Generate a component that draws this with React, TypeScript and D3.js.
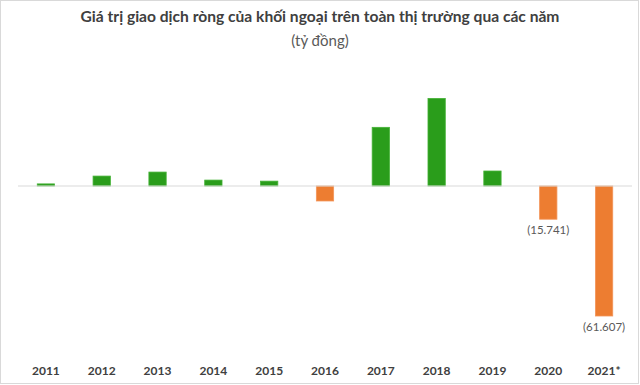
import React from 'react';
import * as d3 from 'd3';

const years = ['2011', '2012', '2013', '2014', '2015', '2016', '2017', '2018', '2019', '2020', '2021*'];
const netValues = [1000, 4700, 6600, 2800, 2300, -7100, 27800, 41500, 7100, -15741, -61607];
const shownLabels = ['', '', '', '', '', '', '', '', '', '(15.741)', '(61.607)'];

const width = 640;
const height = 385;

export default function App() {
    const xScale = d3.scaleBand<string>()
        .domain(years)
        .range([18, 632])
        .paddingInner(0.69)
        .paddingOuter(0.345);

    // zero line sits at y=186, 2021* bottom at ~316
    const yScale = d3.scaleLinear()
        .domain([-61607, 0])
        .range([316, 186]);

    const y0 = yScale(0);

    return (
        <svg width={width} height={height}
            style={{ position: 'absolute', top: 0, left: 0, display: 'block', background: '#fff' }}>
            <rect x={0.5} y={0.5} width={width - 2} height={height - 2} fill="#fff" stroke="#d9d9d9" />

            <text x={320} y={22} textAnchor="middle" fontFamily="Lato, 'Noto Sans', sans-serif"
                fontWeight="bold" fontSize={15.6} fill="#404040">
                Giá trị giao dịch ròng của khối ngoại trên toàn thị trường qua các năm
            </text>
            <text x={320} y={46} textAnchor="middle" fontFamily="Lato, 'Noto Sans', sans-serif"
                fontSize={15} fill="#595959">
                (tỷ đồng)
            </text>

            {years.map((yr, i) => {
                const v = netValues[i];
                const top = Math.min(yScale(v), y0);
                const h = Math.abs(yScale(v) - y0);
                return (
                    <rect key={yr}
                        x={xScale(yr)}
                        y={top}
                        width={xScale.bandwidth()}
                        height={h}
                        fill={v >= 0 ? '#2a9d1b' : '#ed7d31'}
                        stroke={v >= 0 ? '#45b236' : '#f39458'}
                        strokeWidth={0.8} />
                );
            })}

            <line x1={18} x2={632} y1={y0} y2={y0} stroke="#d9d9d9" strokeWidth={1.2} />

            {years.map((yr, i) => shownLabels[i] ? (
                <text key={'l' + yr}
                    x={(xScale(yr) as number) + xScale.bandwidth() / 2}
                    y={yScale(netValues[i]) + 15}
                    textAnchor="middle"
                    fontFamily="Lato, 'Noto Sans', sans-serif"
                    fontSize={11.5} fill="#595959">
                    {shownLabels[i]}
                </text>
            ) : null)}

            {years.map(yr => (
                <text key={'t' + yr}
                    x={(xScale(yr) as number) + xScale.bandwidth() / 2}
                    y={375}
                    textAnchor="middle"
                    fontFamily="Lato, 'Noto Sans', sans-serif"
                    fontWeight="bold" fontSize={12} fill="#404040">
                    {yr}
                </text>
            ))}
        </svg>
    );
}
